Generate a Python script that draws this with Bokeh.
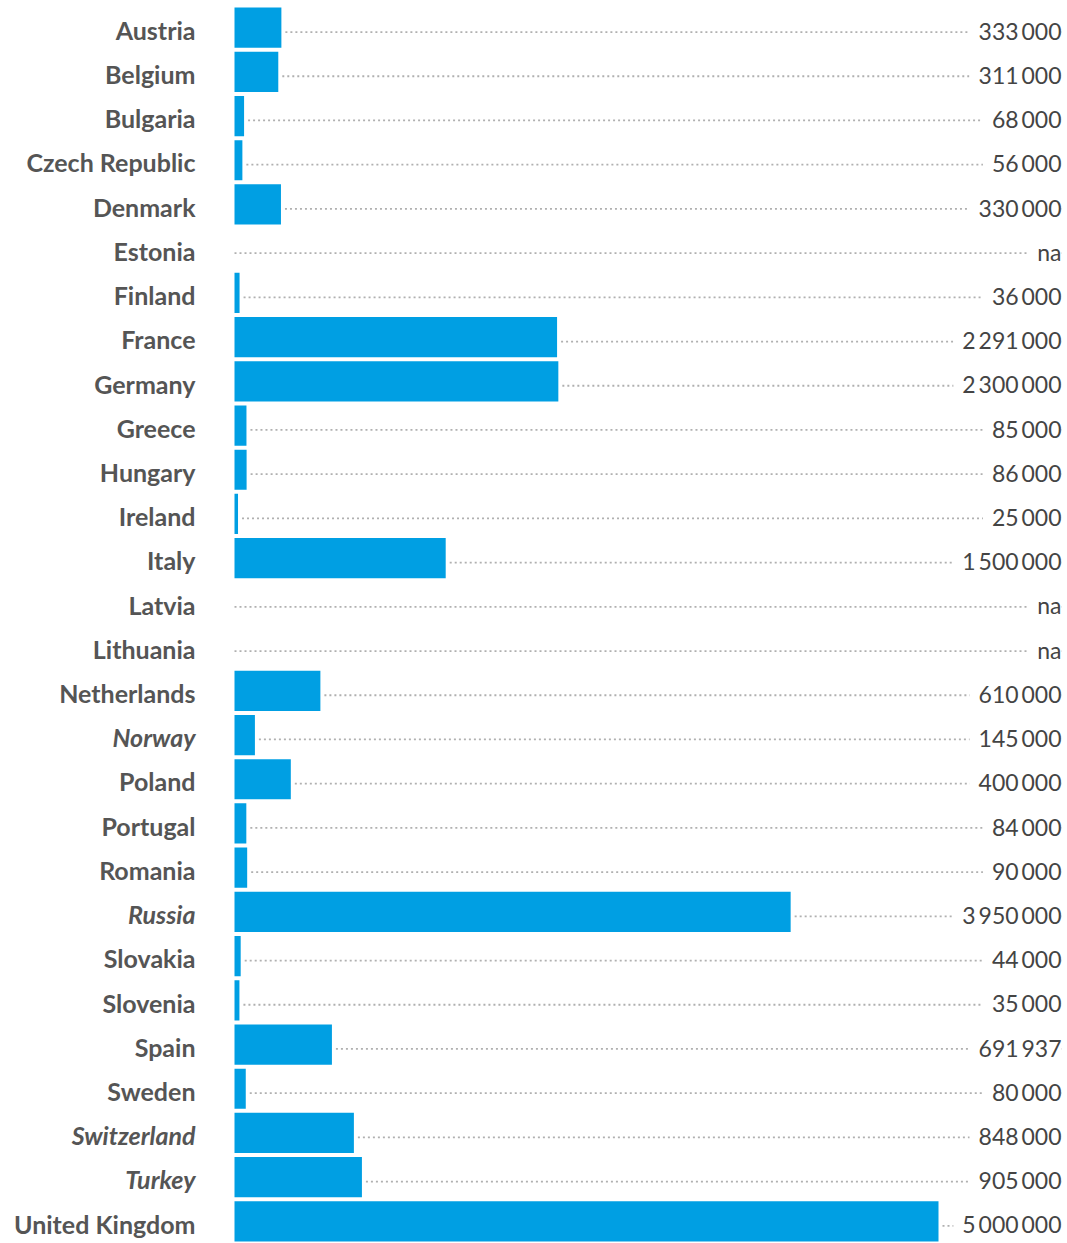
from bokeh.plotting import figure
from bokeh.models import Range1d, FactorRange, ColumnDataSource
from bokeh.core.properties import value
from bokeh.transform import dodge
from bokeh.embed import file_html
from bokeh.resources import INLINE

countries = ["Austria", "Belgium", "Bulgaria", "Czech Republic", "Denmark", "Estonia",
             "Finland", "France", "Germany", "Greece", "Hungary", "Ireland", "Italy",
             "Latvia", "Lithuania", "Netherlands", "Norway", "Poland", "Portugal",
             "Romania", "Russia", "Slovakia", "Slovenia", "Spain", "Sweden",
             "Switzerland", "Turkey", "United Kingdom"]
values = [333000, 311000, 68000, 56000, 330000, None, 36000, 2291000, 2300000, 85000,
          86000, 25000, 1500000, None, None, 610000, 145000, 400000, 84000, 90000,
          3950000, 44000, 35000, 691937, 80000, 848000, 905000, 5000000]
non_eu = ["Norway", "Russia", "Switzerland", "Turkey"]

W, H = 1067, 1243
bar_left_px = 234          # pixel position of zero
max_px = 704               # pixel length of 5 000 000
scale = 5000000 / max_px   # data units per pixel
x0 = -bar_left_px * scale
x1 = (W - bar_left_px) * scale
label_right = x1 - 6 * scale
country_x = x0 + 195 * scale
gap = 4 * scale


def fmt(v):
    if v is None:
        return "na"
    return "{:,}".format(v).replace(",", "\u2009")


vals = [v if v is not None else 0 for v in values]
src = ColumnDataSource(dict(
    country=countries,
    val=vals,
    lead_start=[(v + gap) if v else 0 for v in vals],
    lead_end=[label_right] * len(countries),
    label=[fmt(v) for v in values],
    style_c=["bold italic" if c in non_eu else "bold" for c in countries],
    lx=[label_right] * len(countries),
    cx=[country_x] * len(countries),
))

yr = FactorRange(*reversed(countries), range_padding=0)
p = figure(width=W, height=H, output_backend="svg", toolbar_location=None,
           x_range=Range1d(x0, x1), y_range=yr,
           min_border=0, min_border_top=5, outline_line_color=None)
p.axis.visible = False
p.grid.visible = False
p.background_fill_color = "white"

y_line = dodge("country", -0.1, range=yr)
p.segment(x0="lead_start", x1="lead_end", y0=y_line, y1=y_line, source=src,
          line_color="#b0b0b0", line_width=1.8, line_dash="2 3")
p.hbar(y="country", left=0, right="val", height=0.91, source=src,
       fill_color="#009fe3", line_color=None)
p.text(x="lx", y=dodge("country", -0.07, range=yr), text="label", source=src,
       text_align="right", text_baseline="middle", text_font=value("Lato"),
       text_font_size="23px", text_color="#444444", background_fill_color="white",
       padding=dict(left=9, right=0, top=0, bottom=0))
p.text(x="cx", y=dodge("country", -0.05, range=yr), text="country", source=src,
       text_align="right", text_baseline="middle", text_font=value("Lato"),
       text_font_size="25px", text_font_style="style_c", text_color="#555555")

open("out.html", "w").write(file_html(p, INLINE))
